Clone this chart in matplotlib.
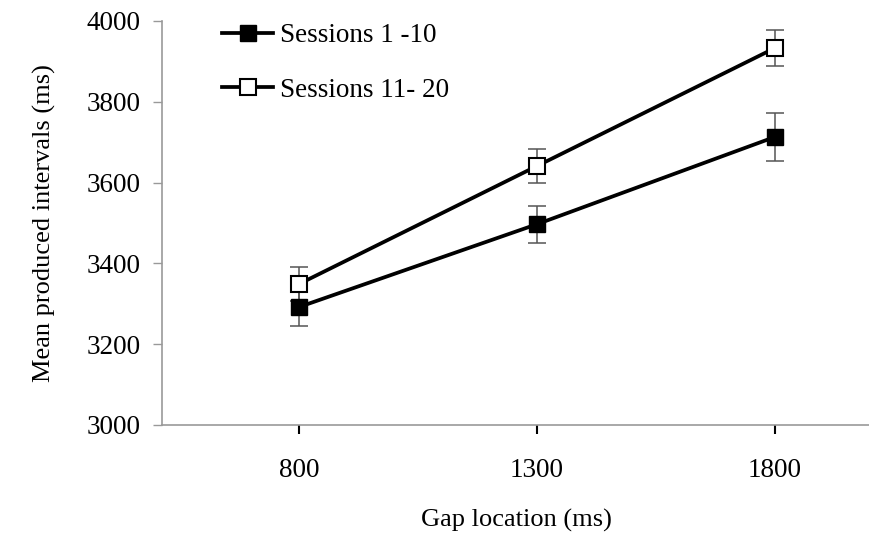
import matplotlib.pyplot as plt

# Data
gap_location = [800, 1300, 1800]
early_means = [3292, 3497, 3713]
early_err = [47, 46, 59]
late_means = [3349, 3641, 3933]
late_err = [42, 41, 44]
labels = ["Sessions 1 -10", "Sessions 11- 20"]

plt.rcParams['font.family'] = ['Liberation Serif', 'DejaVu Serif']

fig = plt.figure(figsize=(8.7, 5.36), dpi=100)
ax = fig.add_axes([162 / 870, 1 - 425 / 536, 1 - 162 / 870, (425 - 21) / 536])

# Error bars underneath
ax.errorbar(gap_location, early_means, yerr=early_err, fmt='none', ecolor='#555555',
            elinewidth=1.1, capsize=6.5, capthick=1.1, zorder=1)
ax.errorbar(gap_location, late_means, yerr=late_err, fmt='none', ecolor='#555555',
            elinewidth=1.1, capsize=6.5, capthick=1.1, zorder=1)

# Lines with square markers
ax.plot(gap_location, early_means, color='black', linewidth=2.7, marker='s',
        markersize=12, markerfacecolor='black', markeredgecolor='black',
        label=labels[0], zorder=3)
ax.plot(gap_location, late_means, color='black', linewidth=2.7, marker='s',
        markersize=12, markerfacecolor='white', markeredgecolor='black',
        markeredgewidth=1.5, label=labels[1], zorder=3)

ax.set_xlim(512, 2000)
ax.set_ylim(3000, 4000)
ax.set_xticks(gap_location)
ax.set_yticks([3000, 3200, 3400, 3600, 3800, 4000])

for side in ['top', 'right']:
    ax.spines[side].set_visible(False)
for side in ['left', 'bottom']:
    ax.spines[side].set_color('#999999')
    ax.spines[side].set_linewidth(1.2)

ax.tick_params(axis='y', direction='out', length=6.5, width=1, color='#999999',
               labelsize=19.5, pad=9)
ax.tick_params(axis='x', direction='out', length=6.5, width=1.5, color='black',
               labelsize=19.5, pad=17)

ax.set_xlabel('Gap location (ms)', fontsize=19, labelpad=19)
ax.set_ylabel('Mean produced intervals (ms)', fontsize=19, labelpad=22)

ax.legend(loc='upper left', bbox_to_anchor=(0.051, 1.055), frameon=False,
          fontsize=19.5, handlelength=1.85, handletextpad=0.26, labelspacing=1.1)

fig.savefig('out.png', dpi=100)
